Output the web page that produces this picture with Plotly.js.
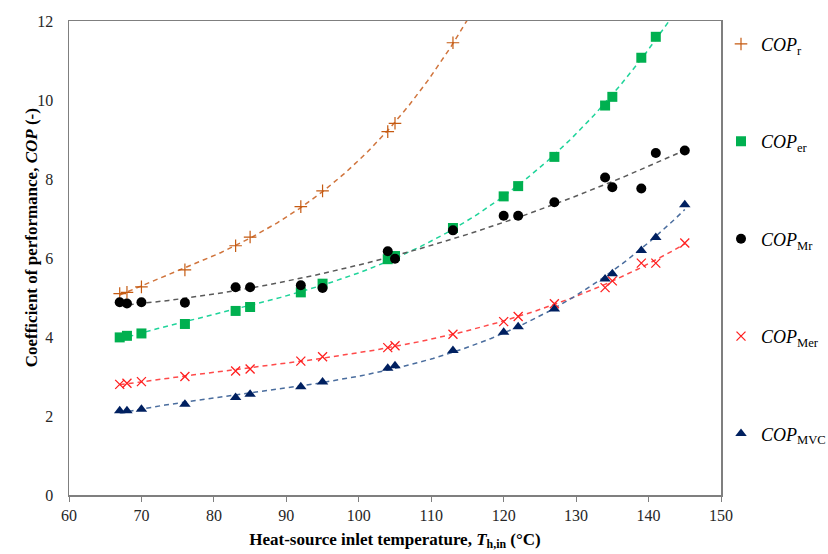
<!DOCTYPE html>
<html>
<head>
<meta charset="utf-8">
<script src="https://cdn.plot.ly/plotly-3.0.1.min.js"></script>
<style>
  html, body { margin: 0; padding: 0; background: #ffffff; }
  #chart { width: 828px; height: 554px; }
</style>
</head>
<body>
<div id="chart"></div>
<script>
// Heat-source inlet temperature (°C)
const tempAll = [67, 68, 70, 76, 83, 85, 92, 95, 104, 105, 113, 120, 122, 127, 134, 135, 139, 141, 145];
const tempR   = tempAll.slice(0, 11);
const tempEr  = tempAll.slice(0, 18);

// Coefficient of performance for each cycle
const copR   = [5.10, 5.13, 5.27, 5.70, 6.31, 6.53, 7.30, 7.70, 9.20, 9.41, 11.45];
const copEr  = [3.99, 4.03, 4.09, 4.33, 4.66, 4.76, 5.13, 5.35, 5.97, 6.05, 6.76, 7.56, 7.82, 8.56, 9.86, 10.08, 11.07, 11.60];
const copMr  = [4.88, 4.85, 4.88, 4.87, 5.26, 5.26, 5.31, 5.24, 6.17, 5.98, 6.70, 7.07, 7.07, 7.41, 8.04, 7.79, 7.76, 8.66, 8.72];
const copMer = [2.80, 2.83, 2.87, 3.00, 3.14, 3.19, 3.39, 3.50, 3.73, 3.78, 4.07, 4.39, 4.52, 4.84, 5.25, 5.42, 5.87, 5.87, 6.38];
const copMvc = [2.13, 2.13, 2.17, 2.30, 2.47, 2.55, 2.74, 2.86, 3.21, 3.27, 3.66, 4.12, 4.26, 4.71, 5.47, 5.60, 6.19, 6.52, 7.35];

// Legend labels and axis ticks
const legendLabels = [
  '<i>COP</i><sub>r</sub>',
  '<i>COP</i><sub>er</sub>',
  '<i>COP</i><sub>Mr</sub>',
  '<i>COP</i><sub>Mer</sub>',
  '<i>COP</i><sub>MVC</sub>'
];
const xTicks = [60, 70, 80, 90, 100, 110, 120, 130, 140, 150];
const yTicks = [0, 2, 4, 6, 8, 10, 12];

// Least-squares polynomial trendline (normal equations, Gauss-Jordan elimination)
function polyFit(xs, ys, order) {
  const n = order + 1;
  const A = Array.from({length: n}, () => new Array(n + 1).fill(0));
  const x0 = 100;
  for (let k = 0; k < xs.length; k++) {
    const u = (xs[k] - x0) / 10;
    for (let i = 0; i < n; i++) {
      for (let j = 0; j < n; j++) A[i][j] += Math.pow(u, i + j);
      A[i][n] += ys[k] * Math.pow(u, i);
    }
  }
  for (let c = 0; c < n; c++) {
    let p = c;
    for (let r = c + 1; r < n; r++) if (Math.abs(A[r][c]) > Math.abs(A[p][c])) p = r;
    [A[c], A[p]] = [A[p], A[c]];
    for (let r = 0; r < n; r++) {
      if (r === c) continue;
      const f = A[r][c] / A[c][c];
      for (let j = c; j <= n; j++) A[r][j] -= f * A[c][j];
    }
  }
  const coef = A.map((row, i) => row[n] / row[i]);
  return x => {
    const u = (x - x0) / 10;
    return coef.reduce((s, c, i) => s + c * Math.pow(u, i), 0);
  };
}

function trendCurve(xs, ys, order, xFrom, xTo) {
  const f = polyFit(xs, ys, order);
  const cx = [], cy = [];
  for (let x = xFrom; x <= xTo + 1e-9; x += 0.25) { cx.push(x); cy.push(f(x)); }
  return {x: cx, y: cy};
}

const series = [
  {x: tempR,   y: copR,   order: 3, symbol: 'cross-thin', size: 9,  mColor: '#C55A11', lineW: 1.2, lColor: '#D0743C', name: legendLabels[0]},
  {x: tempEr,  y: copEr,  order: 3, symbol: 'square',     size: 10, mColor: '#00B050', lineW: 0,   lColor: '#1FD49A', name: legendLabels[1]},
  {x: tempAll, y: copMr,  order: 2, symbol: 'circle',     size: 10, mColor: '#000000', lineW: 0,   lColor: '#5A5A5A', name: legendLabels[2]},
  {x: tempAll, y: copMer, order: 3, symbol: 'x-thin',     size: 9,  mColor: '#FF2020', lineW: 1.3, lColor: '#FF4A4A', name: legendLabels[3]},
  {x: tempAll, y: copMvc, order: 3, symbol: 'triangle-up',size: 10, mColor: '#002060', lineW: 0,   lColor: '#4A6D9E', name: legendLabels[4]}
];

const traces = [];
// dashed trendlines under the markers
series.forEach(s => {
  const c = trendCurve(s.x, s.y, s.order, 67, 145);
  traces.push({
    x: c.x, y: c.y, mode: 'lines', type: 'scatter', showlegend: false,
    hoverinfo: 'skip',
    line: {color: s.lColor, width: 1.5, dash: '5px,4px'}
  });
});
// measured points
series.forEach((s, i) => {
  const thin = s.symbol.endsWith('-thin');
  traces.push({
    x: s.x, y: s.y, mode: 'markers', type: 'scatter', name: s.name,
    legendgroup: 'g' + i,
    marker: {
      symbol: s.symbol, size: s.size, color: s.mColor,
      line: thin ? {color: s.mColor, width: s.lineW} : {width: 0}
    }
  });
});

const serif = 'Liberation Serif, Times New Roman, serif';

const layout = {
  width: 828, height: 554,
  margin: {l: 69, r: 107, t: 21, b: 59, autoexpand: false},
  paper_bgcolor: '#ffffff', plot_bgcolor: '#ffffff',
  showlegend: true,
  legend: {
    x: 1.0, xanchor: 'left', y: 0.99, yanchor: 'top',
    traceorder: 'grouped', tracegroupgap: 71,
    font: {family: serif, size: 18, color: '#000000'},
    bgcolor: 'rgba(0,0,0,0)', borderwidth: 0
  },
  xaxis: {
    range: [60, 150], tickvals: xTicks, ticktext: xTicks.map(String),
    showgrid: false, zeroline: false,
    showline: true, linecolor: '#7f7f7f', linewidth: 1.5, mirror: true,
    ticks: 'outside', ticklen: 5, tickwidth: 1, tickcolor: '#7f7f7f',
    tickfont: {family: serif, size: 16, color: '#262626'},
    title: {
      text: '<b>Heat-source inlet temperature, <i>T</i><sub>h,in</sub> (°C)</b>',
      font: {family: serif, size: 17, color: '#000000'}, standoff: 10
    }
  },
  yaxis: {
    range: [0, 12], tickvals: yTicks, ticktext: yTicks.map(String),
    showgrid: false, zeroline: false,
    showline: true, linecolor: '#7f7f7f', linewidth: 1.5, mirror: true,
    ticks: '', ticklabelstandoff: 11,
    tickfont: {family: serif, size: 16, color: '#262626'}
  },
  annotations: [{
    text: '<b>Coefficient of performance, <i>COP</i> (-)</b>',
    xref: 'paper', yref: 'paper', x: -0.058, y: 0.542,
    xanchor: 'center', yanchor: 'middle', textangle: -90, showarrow: false,
    font: {family: serif, size: 17, color: '#000000'}
  }]
};

Plotly.newPlot('chart', traces, layout, {displayModeBar: false, staticPlot: true});
</script>
</body>
</html>
